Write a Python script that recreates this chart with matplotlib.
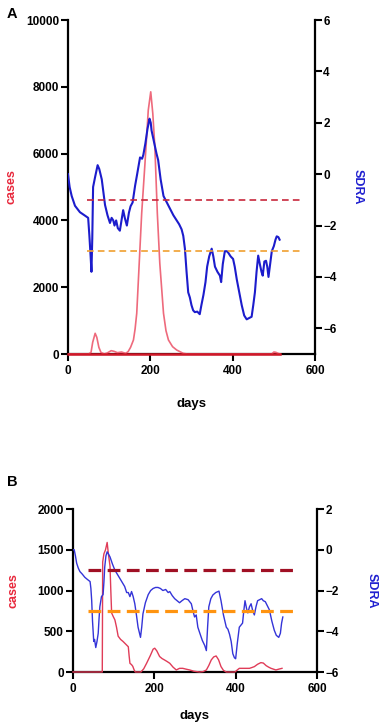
import matplotlib
matplotlib.use('Agg')
import matplotlib.pyplot as plt

plt.rcParams['font.family'] = ['Liberation Sans', 'DejaVu Sans']
plt.rcParams['font.weight'] = 'bold'
plt.rcParams['font.size'] = 8

# panel A data
a_case_days = [0, 50, 56, 60, 66, 70, 75, 80, 88, 95, 105, 112, 120, 130, 140, 146, 152, 159, 163,
               167, 173, 179, 187, 195, 201, 206, 211, 217, 223, 232, 238, 244, 254, 264, 280, 290,
               495, 500, 505, 510, 515]
a_cases = [0, 0, 50, 350, 620, 500, 200, 50, 0, 30, 100, 80, 40, 60, 20, 70, 200, 420, 750,
           1220, 2715, 4210, 5710, 7300, 7850, 7200, 6200, 4210, 2715, 1220, 700, 420, 220, 120, 20, 0,
           0, 60, 50, 20, 0]

a_sdra_days = [0, 4, 9, 17, 29, 40, 49, 52, 55, 57, 59, 61, 66, 72, 76, 82, 90, 96, 102, 106, 110,
               113, 117, 121, 126, 130, 134, 138, 143, 148, 152, 157, 163, 168, 175, 180, 183, 188,
               193, 198, 201, 203, 207, 211, 215, 219, 225, 232, 240, 248, 256, 264, 270, 276, 280,
               284, 288, 292, 296, 300, 304, 308, 314, 320, 324, 329, 334, 338, 343, 349, 353, 357,
               363, 369, 372, 376, 381, 386, 389, 395, 401, 405, 410, 416, 422, 428, 434, 440, 446,
               450, 454, 458, 462, 466, 470, 473, 477, 481, 484, 487, 491, 495, 500, 504, 507, 511, 514]
a_sdra = [0.0, -0.5, -0.85, -1.23, -1.48, -1.6, -1.7, -2.4, -3.2, -3.8, -2.5, -0.5, -0.1, 0.35, 0.2,
          -0.2, -1.2, -1.6, -1.9, -1.7, -1.8, -2.0, -1.8, -2.1, -2.2, -1.8, -1.4, -1.7, -2.0, -1.5,
          -1.25, -1.1, -0.45, 0.0, 0.65, 0.6, 0.75, 1.2, 1.75, 2.16, 2.0, 1.7, 1.4, 1.1, 0.8, 0.55,
          -0.2, -0.85, -1.1, -1.35, -1.6, -1.8, -1.95, -2.15, -2.4, -2.9, -3.8, -4.6, -4.8, -5.1,
          -5.3, -5.37, -5.35, -5.45, -5.1, -4.7, -4.2, -3.6, -3.2, -2.9, -3.2, -3.6, -3.8, -3.95,
          -4.2, -3.5, -3.0, -3.0, -3.05, -3.2, -3.3, -3.6, -4.1, -4.6, -5.1, -5.5, -5.65, -5.6,
          -5.55, -5.1, -4.6, -3.8, -3.17, -3.5, -3.8, -3.95, -3.4, -3.37, -3.6, -4.0, -3.5, -3.0,
          -2.8, -2.55, -2.42, -2.45, -2.55]

# panel B data
b_case_days = [0, 72, 73, 76, 80, 84, 87, 91, 93, 95, 99, 103, 107, 111, 117, 123, 130, 136, 138, 140,
               144, 147, 150, 153, 167, 174, 181, 190, 197, 201, 206, 213, 219, 225, 231, 238, 246,
               254, 262, 270, 278, 287, 297, 311, 320, 328, 334, 340, 346, 352, 358, 364, 370, 377,
               398, 404, 409, 420, 434, 440, 446, 454, 462, 468, 475, 481, 487, 493, 499, 506, 514]
b_cases = [0, 0, 1350, 1450, 1500, 1590, 1450, 1300, 1000, 725, 680, 640, 550, 440, 400, 375, 340, 310,
           200, 107, 90, 70, 30, 0, 0, 40, 107, 200, 280, 292, 260, 190, 165, 148, 130, 107, 60, 25,
           45, 45, 35, 25, 10, 0, 5, 25, 80, 148, 185, 197, 150, 66, 20, 0, 0, 25, 45, 45, 45, 55,
           66, 95, 115, 110, 78, 60, 45, 35, 25, 35, 45]

b_sdra_days = [0, 3, 6, 9, 13, 17, 23, 29, 35, 42, 44, 46, 48, 51, 53, 56, 59, 62, 64, 66, 70, 74, 76,
               78, 81, 84, 87, 91, 97, 103, 109, 115, 121, 127, 132, 136, 140, 144, 148, 152, 156, 160,
               166, 169, 172, 178, 185, 191, 197, 203, 209, 215, 221, 228, 234, 238, 244, 250, 256,
               262, 268, 275, 283, 291, 295, 299, 303, 307, 312, 318, 324, 328, 331, 334, 339, 344,
               351, 359, 364, 370, 377, 381, 385, 389, 393, 397, 400, 404, 409, 413, 417, 420, 423,
               427, 430, 434, 438, 442, 446, 450, 454, 459, 464, 468, 473, 478, 483, 489, 495, 500,
               506, 510, 513, 516]
b_sdra = [0.0, 0.0, -0.3, -0.66, -0.9, -1.07, -1.2, -1.35, -1.45, -1.56, -1.9, -2.5, -3.5, -4.5, -4.4,
          -4.8, -4.5, -4.1, -3.4, -2.8, -2.3, -2.2, -1.6, -0.85, -0.3, -0.1, -0.2, -0.35, -0.7, -1.0,
          -1.2, -1.4, -1.6, -1.8, -2.1, -2.1, -2.3, -2.05, -2.3, -2.65, -3.2, -3.8, -4.3, -3.8, -3.15,
          -2.6, -2.2, -2.0, -1.9, -1.85, -1.85, -1.9, -2.0, -1.95, -2.1, -2.05, -2.25, -2.4, -2.5,
          -2.6, -2.5, -2.4, -2.45, -2.65, -3.0, -3.3, -3.2, -3.8, -4.1, -4.45, -4.7, -4.95, -3.8,
          -2.8, -2.4, -2.22, -2.1, -2.03, -2.5, -3.2, -3.8, -3.9, -4.15, -4.5, -5.1, -5.3, -5.35,
          -4.6, -3.8, -3.7, -3.6, -3.0, -2.5, -2.9, -3.1, -2.8, -2.65, -3.0, -3.2, -2.8, -2.5, -2.45,
          -2.4, -2.5, -2.55, -2.75, -2.95, -3.5, -3.95, -4.2, -4.3, -4.1, -3.6, -3.3]

# threshold lines (SDRA units) and their day span
thresholds = [-1, -3]
a_span = [46, 565]
b_span = [37, 541]


def style_axes(ax, ax2):
    for s in ['top', 'right']:
        ax.spines[s].set_visible(False)
    for s in ['top', 'left', 'bottom']:
        ax2.spines[s].set_visible(False)
    ax.spines['left'].set_linewidth(1.6)
    ax.spines['bottom'].set_linewidth(1.6)
    ax2.spines['right'].set_linewidth(1.6)
    ax.tick_params(direction='out', length=5, width=1.5, pad=1.5, labelsize=8.5)
    ax.tick_params(axis='x', pad=3)
    ax2.tick_params(direction='out', length=5, width=1.5, pad=1, labelsize=8.5)
    for lab in ax.get_xticklabels() + ax.get_yticklabels() + ax2.get_yticklabels():
        lab.set_fontweight('bold')


fig = plt.figure(figsize=(3.83, 7.25), dpi=100)

# ---- panel A
ax = fig.add_axes([0.1775, 0.5117, 0.645, 0.4607])
ax2 = ax.twinx()
ax.plot(a_case_days, a_cases, color='#ee6a7c', lw=1.2, zorder=3)
ax.axhline(0, xmin=0, xmax=515 / 600, color='#d01828', lw=1.8, zorder=4, clip_on=False)
ax.set_xlim(0, 600)
ax.set_ylim(0, 10000)
ax.set_xticks([0, 200, 400, 600])
ax.set_yticks([0, 2000, 4000, 6000, 8000, 10000])
ax2.plot(a_sdra_days, a_sdra, color='#1c1ccc', lw=1.5)
ax2.hlines(thresholds[0], a_span[0], a_span[1], colors='#c8283c', linestyles=(0, (4, 2.5)), lw=1.2)
ax2.hlines(thresholds[1], a_span[0], a_span[1], colors='#f0a030', linestyles=(0, (4, 2.5)), lw=1.2)
ax2.set_ylim(-7, 6)
ax2.set_yticks([-6, -4, -2, 0, 2, 4, 6])
ax.set_xlabel('days', fontsize=9.5, fontweight='bold')
ax.xaxis.set_label_coords(0.5, -0.132)
ax.set_ylabel('cases', color='#e8283c', fontsize=9, fontweight='bold', va='center')
ax.yaxis.set_label_coords(-0.227, 0.5)
ax2.set_ylabel('SDRA', color='#2020d0', fontsize=9, fontweight='bold', rotation=270, va='center')
ax2.yaxis.set_label_coords(1.174, 0.5)
style_axes(ax, ax2)
fig.text(0.018, 0.981, 'A', fontsize=10.5, fontweight='bold', va='center', ha='left')

# ---- panel B
bx = fig.add_axes([0.1906, 0.0731, 0.637, 0.2248])
bx2 = bx.twinx()
bx.plot(b_case_days, b_cases, color='#e03c58', lw=1.0, zorder=3, clip_on=False)
bx.set_xlim(0, 600)
bx.set_ylim(0, 2000)
bx.set_xticks([0, 200, 400, 600])
bx.set_yticks([0, 500, 1000, 1500, 2000])
bx2.plot(b_sdra_days, b_sdra, color='#3434d8', lw=1.0)
bx2.hlines(thresholds[0], b_span[0], b_span[1], colors='#a01024', linestyles=(0, (4, 2)), lw=2.3)
bx2.hlines(thresholds[1], b_span[0], b_span[1], colors='#ff9410', linestyles=(0, (4, 2)), lw=2.3)
bx2.set_ylim(-6, 2)
bx2.set_yticks([-6, -4, -2, 0, 2])
bx.set_xlabel('days', fontsize=9.5, fontweight='bold')
bx.xaxis.set_label_coords(0.5, -0.233)
bx.set_ylabel('cases', color='#e8283c', fontsize=9, fontweight='bold', va='center')
bx.yaxis.set_label_coords(-0.242, 0.5)
bx2.set_ylabel('SDRA', color='#2020d0', fontsize=9, fontweight='bold', rotation=270, va='center')
bx2.yaxis.set_label_coords(1.225, 0.5)
style_axes(bx, bx2)
fig.text(0.018, 0.335, 'B', fontsize=10.5, fontweight='bold', va='center', ha='left')

fig.savefig('out.png', dpi=100)
